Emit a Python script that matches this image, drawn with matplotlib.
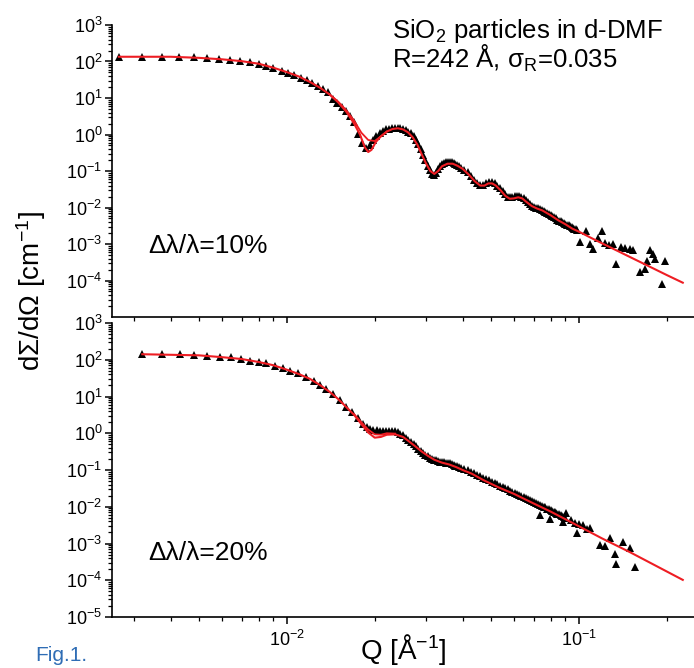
import numpy as np
from matplotlib import pyplot as plt
from matplotlib.ticker import LogLocator, NullFormatter

plt.rcParams['font.family'] = ['Liberation Sans', 'DejaVu Sans']
plt.rcParams['mathtext.fontset'] = 'custom'
plt.rcParams['mathtext.rm'] = 'Liberation Sans'
plt.rcParams['mathtext.it'] = 'Liberation Sans:italic'
plt.rcParams['mathtext.bf'] = 'Liberation Sans:bold'

# ---- dλ/λ = 10 % : measured points (Q in 1/Å, log10 of dΣ/dΩ) ----
q10 = [0.00266, 0.00320, 0.00373, 0.00427, 0.00480, 0.00533, 0.00585, 0.00640, 0.00690, 0.00750,
       0.00800, 0.00850, 0.00900, 0.00960, 0.01010, 0.01060, 0.01120, 0.01170, 0.01220, 0.01280,
       0.01330, 0.01380, 0.01440, 0.01490, 0.01540, 0.01600, 0.01650, 0.01700, 0.01760, 0.01810,
       0.01860, 0.01920, 0.01970, 0.02020, 0.02080, 0.02130, 0.02180, 0.02240, 0.02290, 0.02340,
       0.02400, 0.02450, 0.02500, 0.02560, 0.02610, 0.02660, 0.02720, 0.02770, 0.02820, 0.02880,
       0.02930, 0.02980, 0.03040, 0.03090, 0.03140, 0.03200, 0.03250, 0.03300, 0.03360, 0.03410,
       0.03460, 0.03520, 0.03570, 0.03620, 0.03680, 0.03730, 0.03780, 0.03840, 0.03890, 0.03940,
       0.0405, 0.0416, 0.0427, 0.0438, 0.0449, 0.0460, 0.0471, 0.0482, 0.0493, 0.0504,
       0.0515, 0.0526, 0.0537, 0.0548, 0.0559, 0.0570, 0.0581, 0.0592, 0.0603, 0.0614,
       0.0625, 0.0636, 0.0647, 0.0658, 0.0669, 0.0680, 0.0691, 0.0702, 0.0713, 0.0724,
       0.0735, 0.0746, 0.0757, 0.0768, 0.0779, 0.0790, 0.0801, 0.0812, 0.0823, 0.0834,
       0.0845, 0.0856, 0.0867, 0.0878, 0.0889, 0.0900, 0.0911, 0.0922, 0.0933, 0.0944,
       0.0955, 0.0966, 0.0977, 0.0988]
logi10 = [2.13, 2.13, 2.13, 2.13, 2.11, 2.09, 2.06, 2.04, 2.01, 1.98,
          1.94, 1.89, 1.82, 1.75, 1.69, 1.63, 1.56, 1.49, 1.41, 1.33,
          1.25, 1.17, 0.97, 0.86, 0.76, 0.64, 0.50, 0.34, 0.02, -0.22,
          -0.36, -0.30, -0.14, -0.03, 0.05, 0.10, 0.14, 0.16, 0.18, 0.19,
          0.19, 0.18, 0.16, 0.12, 0.08, 0.03, -0.05, -0.14, -0.25, -0.40,
          -0.55, -0.70, -0.85, -0.98, -1.07, -1.10, -1.05, -0.95, -0.86, -0.81,
          -0.78, -0.76, -0.75, -0.75, -0.76, -0.78, -0.81, -0.84, -0.87, -0.91,
          -0.96, -1.04, -1.13, -1.24, -1.33, -1.38, -1.37, -1.32, -1.29, -1.30,
          -1.34, -1.40, -1.47, -1.56, -1.64, -1.70, -1.72, -1.71, -1.69, -1.68,
          -1.69, -1.71, -1.75, -1.80, -1.86, -1.91, -1.95, -1.98, -2.00, -2.02,
          -2.04, -2.06, -2.09, -2.12, -2.15, -2.18, -2.21, -2.24, -2.27, -2.30,
          -2.33, -2.36, -2.38, -2.41, -2.43, -2.45, -2.47, -2.49, -2.51, -2.53,
          -2.56, -2.58, -2.60, -2.62]
# noisy points at high Q
q10_hi = [0.1008, 0.1062, 0.1090, 0.1120, 0.1165, 0.1196, 0.1230, 0.1270, 0.1310, 0.1346,
          0.1400, 0.1440, 0.1496, 0.1535, 0.1618, 0.1683, 0.1706, 0.1750, 0.1796, 0.1820,
          0.1920, 0.1970]
logi10_hi = [-2.94, -2.64, -3.00, -3.15, -2.84, -2.64, -2.97, -3.03, -3.00, -3.55,
             -3.07, -3.10, -3.15, -3.16, -3.78, -3.69, -3.46, -3.16, -3.27, -3.42,
             -4.10, -3.46]

# fit curves (two nearly identical fits, they differ only at the first minimum)
qfit10 = [0.00266, 0.0040, 0.0050, 0.0060, 0.0070, 0.0080, 0.0090, 0.0100, 0.0110, 0.0120,
          0.0130, 0.0140, 0.0150, 0.0160, 0.0170, 0.0178, 0.0185, 0.0190, 0.0195, 0.0202,
          0.0210, 0.0220, 0.0230, 0.0240, 0.0250, 0.0260, 0.0270, 0.0280, 0.0290, 0.0300,
          0.0310, 0.0320, 0.0330, 0.0340, 0.0355, 0.0370, 0.0385, 0.0400, 0.0420, 0.0440,
          0.0460, 0.0475, 0.0490, 0.0505, 0.0520, 0.0540, 0.0560, 0.0580, 0.0600, 0.0620,
          0.0640, 0.0660, 0.0690, 0.0720, 0.0750, 0.0800, 0.0850, 0.0900, 0.0950, 0.1000,
          0.1100, 0.1200, 0.1350, 0.1500, 0.1800, 0.2000, 0.2270]
logfit10 = [2.13, 2.13, 2.10, 2.06, 2.01, 1.94, 1.83, 1.71, 1.59, 1.44,
            1.28, 1.10, 0.88, 0.62, 0.30, 0.00, -0.35, -0.48, -0.42, -0.20,
            -0.05, 0.08, 0.15, 0.17, 0.14, 0.06, -0.08, -0.28, -0.55, -0.80,
            -1.00, -1.08, -1.00, -0.87, -0.80, -0.80, -0.86, -0.94, -1.10, -1.28,
            -1.40, -1.40, -1.34, -1.34, -1.40, -1.53, -1.68, -1.76, -1.75, -1.72,
            -1.75, -1.84, -1.96, -2.03, -2.08, -2.21, -2.35, -2.46, -2.58, -2.66,
            -2.83, -2.98, -3.18, -3.36, -3.67, -3.85, -4.06]
qfit10b = [0.0140, 0.0150, 0.0160, 0.0170, 0.0180, 0.0190, 0.0200, 0.0210, 0.0220]
logfit10b = [1.10, 0.90, 0.66, 0.38, 0.05, -0.15, -0.18, -0.05, 0.08]

# ---- dλ/λ = 20 % ----
q20 = [0.00320, 0.00374, 0.00430, 0.00482, 0.00535, 0.00590, 0.00643, 0.00696, 0.00751, 0.00804,
       0.00852, 0.00910, 0.00967, 0.01024, 0.01093, 0.01168, 0.01237, 0.01297, 0.01367, 0.01440,
       0.01518, 0.01600, 0.01674, 0.01755, 0.01825, 0.01880, 0.01923, 0.01970, 0.02030, 0.02080,
       0.02130, 0.02180, 0.02240, 0.02290, 0.02340, 0.02400, 0.02450, 0.02500, 0.02560, 0.02610,
       0.02660, 0.02720, 0.02770, 0.02820, 0.02880, 0.02930, 0.02980, 0.03040, 0.03090, 0.03140,
       0.03200, 0.03250, 0.03300, 0.03360, 0.03410, 0.03460, 0.03520, 0.03570, 0.03620, 0.03680,
       0.03730, 0.03780, 0.03840, 0.03890, 0.03940, 0.0405, 0.0416, 0.0427, 0.0438, 0.0449,
       0.0460, 0.0471, 0.0482, 0.0493, 0.0504, 0.0515, 0.0526, 0.0537, 0.0548, 0.0559,
       0.0570, 0.0581, 0.0592, 0.0603, 0.0614, 0.0625, 0.0636, 0.0647, 0.0658, 0.0669,
       0.0680, 0.0691, 0.0702, 0.0713, 0.0724, 0.0735, 0.0746, 0.0757, 0.0768, 0.0779,
       0.0790, 0.0801, 0.0812, 0.0823, 0.0834, 0.0845, 0.0856, 0.0867, 0.0878, 0.0889,
       0.0900]
logi20 = [2.15, 2.15, 2.15, 2.13, 2.11, 2.08, 2.07, 2.02, 1.97, 1.93,
          1.90, 1.84, 1.77, 1.70, 1.63, 1.52, 1.43, 1.31, 1.20, 1.06,
          0.90, 0.72, 0.59, 0.41, 0.24, 0.16, 0.12, 0.09, 0.08, 0.07,
          0.07, 0.07, 0.07, 0.07, 0.06, 0.03, -0.01, -0.06, -0.12, -0.18,
          -0.24, -0.30, -0.36, -0.42, -0.48, -0.53, -0.58, -0.62, -0.66, -0.69,
          -0.72, -0.74, -0.76, -0.77, -0.78, -0.79, -0.80, -0.81, -0.82, -0.84,
          -0.86, -0.88, -0.90, -0.92, -0.94, -0.97, -1.01, -1.05, -1.09, -1.13,
          -1.17, -1.21, -1.25, -1.28, -1.32, -1.36, -1.39, -1.43, -1.46, -1.50,
          -1.53, -1.56, -1.59, -1.62, -1.65, -1.68, -1.71, -1.73, -1.76, -1.79,
          -1.82, -1.84, -1.87, -1.89, -1.92, -1.95, -1.97, -2.00, -2.02, -2.05,
          -2.07, -2.09, -2.12, -2.14, -2.16, -2.19, -2.21, -2.23, -2.26, -2.28,
          -2.30]
q20_hi = [0.0735, 0.0796, 0.0828, 0.0884, 0.0907, 0.0940, 0.0970, 0.0982, 0.1000, 0.1035,
          0.1065, 0.1090, 0.1180, 0.1228, 0.1277, 0.1328, 0.1346, 0.1419, 0.1496, 0.1556]
logi20_hi = [-2.22, -2.34, -2.13, -2.41, -2.18, -2.36, -2.44, -2.71, -2.47, -2.50,
             -2.60, -2.59, -3.04, -3.07, -2.84, -3.29, -3.56, -2.95, -3.13, -3.63]

qfit20 = [0.0032, 0.0050, 0.0060, 0.0070, 0.0080, 0.0090, 0.0100, 0.0110, 0.0120, 0.0130,
          0.0140, 0.0150, 0.0160, 0.0170, 0.0180, 0.0190, 0.0200, 0.0210, 0.0220, 0.0235,
          0.0250, 0.0260, 0.0275, 0.0290, 0.0305, 0.0320, 0.0340, 0.0360, 0.0380, 0.0400,
          0.0430, 0.0470, 0.0530, 0.0600, 0.0700, 0.0800, 0.0900, 0.1000, 0.1200, 0.1500,
          0.1800, 0.2270]
logfit20 = [2.15, 2.12, 2.07, 2.02, 1.94, 1.85, 1.73, 1.61, 1.48, 1.31,
            1.13, 0.93, 0.71, 0.50, 0.25, 0.02, -0.12, -0.10, -0.04, -0.03,
            -0.10, -0.20, -0.35, -0.50, -0.62, -0.72, -0.80, -0.85, -0.92, -1.00,
            -1.10, -1.27, -1.47, -1.65, -1.91, -2.13, -2.34, -2.53, -2.86, -3.24,
            -3.57, -3.99]
qfit20b = [0.0170, 0.0180, 0.0190, 0.0200, 0.0210, 0.0220, 0.0235]
logfit20b = [0.52, 0.30, 0.10, -0.03, -0.04, 0.00, -0.01]

RED = '#ee1d23'
W, H = 694, 668

fig = plt.figure(figsize=(W / 100, H / 100), dpi=100)
ax1 = fig.add_axes([112 / W, 1 - 317 / H, (W - 112) / W, (317 - 25) / H])
ax2 = fig.add_axes([112 / W, 1 - 617 / H, (W - 112) / W, (617 - 323) / H], sharex=ax1)

panels = [
    (ax1, q10, logi10, q10_hi, logi10_hi, qfit10, logfit10, qfit10b, logfit10b),
    (ax2, q20, logi20, q20_hi, logi20_hi, qfit20, logfit20, qfit20b, logfit20b),
]
for ax, q, li, qh, lh, qf, lf, qfb, lfb in panels:
    ax.plot(q, 10 ** np.array(li), '^', color='k', ms=5.8, mew=0, ls='none')
    ax.plot(qh, 10 ** np.array(lh), '^', color='k', ms=5.8, mew=0, ls='none')
    ax.plot(qfb, 10 ** np.array(lfb), color=RED, lw=1.3)
    ax.plot(qf, 10 ** np.array(lf), color=RED, lw=1.5)
    ax.set_xscale('log')
    ax.set_yscale('log')
    ax.set_xlim(0.00252, 0.248)
    ax.set_ylim(1e-5, 1e3)
    ax.spines['top'].set_visible(False)
    ax.spines['right'].set_visible(False)
    for s in ('left', 'bottom'):
        ax.spines[s].set_linewidth(1.2)
    ax.yaxis.set_major_locator(LogLocator(base=10, numticks=20))
    ax.yaxis.set_minor_locator(LogLocator(base=10, subs=np.arange(2, 10), numticks=20))
    ax.yaxis.set_minor_formatter(NullFormatter())
    ax.xaxis.set_minor_formatter(NullFormatter())
    ax.tick_params(which='major', length=5, width=1.1, labelsize=13, pad=2)
    ax.tick_params(which='minor', length=3, width=0.9)
    ax.tick_params(axis='x', pad=4)

ax1.tick_params(axis='x', labelbottom=False)
ax1.set_yticks([1e-4, 1e-3, 1e-2, 1e-1, 1e0, 1e1, 1e2, 1e3])

ax2.set_xlabel(r'Q [Å$^{-1}$]', fontsize=20)
ax2.xaxis.set_label_coords(0.5, -0.05)
fig.text(31 / W, 1 - 291 / H, r'd$\Sigma$/d$\Omega$ [cm$^{-1}$]', rotation=90,
         ha='center', va='center', fontsize=20)

fig.text(392 / W, 1 - 38 / H, r'SiO$_2$ particles in d-DMF', fontsize=18.5, va='baseline')
fig.text(392 / W, 1 - 68 / H, r'R=242 Å, σ$_{\rm R}$=0.035', fontsize=18.5, va='baseline')
fig.text(148 / W, 1 - 253 / H, 'Δλ/λ=10%', fontsize=19, va='baseline')
fig.text(148 / W, 1 - 560 / H, 'Δλ/λ=20%', fontsize=19, va='baseline')
fig.text(35 / W, 1 - 661 / H, 'Fig.1.', fontsize=15, color='#2f6db5', va='baseline')

fig.savefig('out.png', dpi=100)
